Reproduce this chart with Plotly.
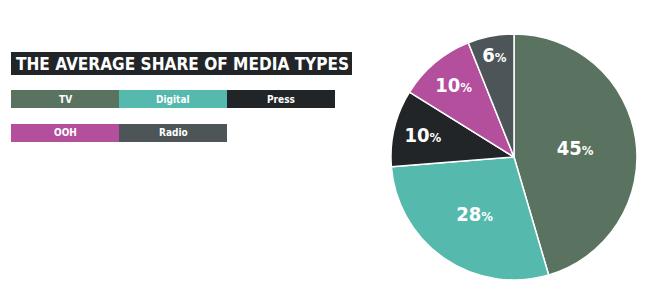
import plotly.graph_objects as go

W, H = 653, 292

labels = ["TV", "Digital", "Press", "OOH", "Radio"]
values = [45, 28, 10, 10, 6]
colors = ["#5a7360", "#55b9ad", "#222528", "#b44f9e", "#4d5558"]
legend_rows = [["TV", "Digital", "Press"], ["OOH", "Radio"]]
title_text = "THE AVERAGE SHARE OF MEDIA TYPES"

def px(x):
    return x / W

def py(y):
    return 1 - y / H

fig = go.Figure()
fig.add_trace(go.Pie(
    labels=labels,
    values=values,
    marker=dict(colors=colors, line=dict(color="white", width=1.5)),
    sort=False,
    direction="clockwise",
    rotation=0,
    textinfo="text",
    texttemplate="<b>%{value}</b><span style='font-size:13px'><b>%</b></span>",
    textposition="inside",
    insidetextorientation="horizontal",
    textfont=dict(family="DejaVu Sans Condensed", size=20, color="white"),
    showlegend=False,
    hoverinfo="label+value",
    domain=dict(x=[px(391), px(637)], y=[py(280), py(34)]),
))

shapes = []
annotations = []
# title box
shapes.append(dict(type="rect", xref="paper", yref="paper",
                   x0=px(11), x1=px(352), y0=py(75), y1=py(52),
                   fillcolor="#222528", line=dict(width=0), layer="below"))
annotations.append(dict(xref="paper", yref="paper", x=px(182), y=py(64),
                        text="<b>" + title_text + "</b>", showarrow=False,
                        font=dict(family="DejaVu Sans Condensed", size=17.1, color="white"),
                        xanchor="center", yanchor="middle"))

color_of = dict(zip(labels, colors))
seg_w = 108
seg_h = 18
row_top = [90, 124]
for r, row in enumerate(legend_rows):
    for i, name in enumerate(row):
        x0 = 11 + i * seg_w
        y0 = row_top[r]
        shapes.append(dict(type="rect", xref="paper", yref="paper",
                           x0=px(x0), x1=px(x0 + seg_w), y0=py(y0 + seg_h), y1=py(y0),
                           fillcolor=color_of[name], line=dict(width=0)))
        annotations.append(dict(xref="paper", yref="paper",
                                x=px(x0 + seg_w / 2), y=py(y0 + seg_h / 2),
                                text="<b>" + name + "</b>", showarrow=False,
                                font=dict(family="DejaVu Sans Condensed", size=10, color="white"),
                                xanchor="center", yanchor="middle"))

fig.update_layout(
    width=W, height=H,
    margin=dict(l=0, r=0, t=0, b=0),
    paper_bgcolor="white", plot_bgcolor="white",
    shapes=shapes, annotations=annotations,
)

fig.write_html("out.html")
